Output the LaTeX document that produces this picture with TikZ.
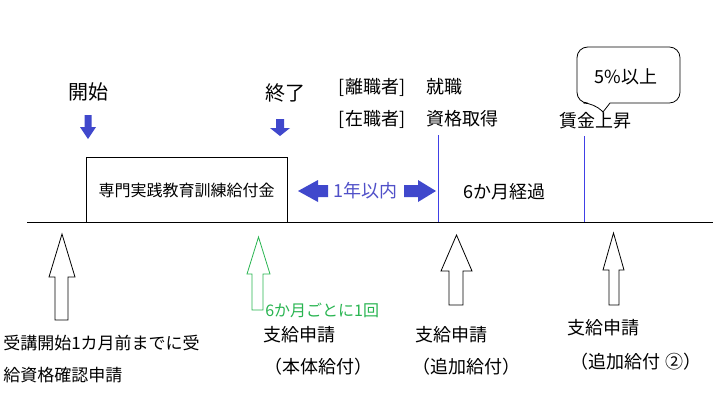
\documentclass[tikz,border=0pt]{standalone}
\usepackage{fontspec}
\setmainfont{Noto Sans CJK JP}
\usepackage{xcolor}
\usepackage{tikz}
\usetikzlibrary{positioning}
\definecolor{arrblue}{RGB}{64,72,204}
\definecolor{lineblue}{RGB}{64,64,230}
\definecolor{txtblue}{RGB}{80,80,200}
\definecolor{apgreen}{RGB}{40,180,80}
\tikzset{lbl/.style={inner sep=0pt, font=\fontsize{13.5}{16}\selectfont},
	big lbl/.style={inner sep=0pt, font=\fontsize{15}{18}\selectfont},
	hollow arr/.style={draw, line width=0.6pt},
	blue arr/.style={fill=arrblue, draw=none}}

\begin{document}
\begin{tikzpicture}[x=0.75pt, y=-0.75pt]
	\useasboundingbox (0,0) rectangle (713,419);
	
	\draw[line width=0.75pt] (86,157) rectangle (287,222);
	\node[inner sep=0pt, font=\fontsize{12}{14}\selectfont] (kyufu) at (186.5,190) {専門実践教育訓練給付金};
	
	\coordinate (t0) at (27,222);
	\coordinate (t1) at (713,222);
	\draw[line width=0.75pt] (t0) -- (t1);
	
	\node[big lbl] (start) at (88,92) {開始};
	\node[big lbl] (end) at (285,93) {終了};
	
	\fill[blue arr] (84.5,115) -- (91.5,115) -- (91.5,127) -- (96,127) -- (88,139) -- (80,127) -- (84.5,127) -- cycle;
	\fill[blue arr] (276,119) -- (284,119) -- (284,128) -- (290,128) -- (280,136) -- (270,128) -- (276,128) -- cycle;
	
	\node[lbl] (rishoku) at (372,87) {[離職者]};
	\node[lbl, anchor=west] (shushoku) at (426,87) {就職};
	\node[lbl] (zaishoku) at (372,119) {[在職者]};
	\node[lbl, anchor=west] (shikaku) at (426,119) {資格取得};
	\node[lbl] (chingin) at (595,121) {賃金上昇};
	
	\draw[lineblue, line width=0.6pt] (438,135) -- (438,222);
	\draw[lineblue, line width=0.6pt] (584,136) -- (584,222);
	
	% callout
	\draw[line width=0.6pt] (603,112) -- (610,103) [rounded corners=8] -- (680,103) -- (680,47) -- (577,47) -- (577,103) -- (594,103) [sharp corners] -- cycle;
	\node[lbl] (pct) at (626,77) {5\%以上};
	
	\fill[blue arr] (298,191) -- (318,180) -- (318,185) -- (328,185) -- (328,197) -- (318,197) -- (318,202) -- cycle;
	\fill[blue arr] (436,191) -- (418,180) -- (418,185) -- (404,185) -- (404,197) -- (418,197) -- (418,202) -- cycle;
	\node[lbl, text=txtblue] (ichinen) at (365,191) {1年以内};
	\node[lbl] (rokka) at (504,192) {6か月経過};
	
	% up arrows
	\draw[hollow arr] (62,234) -- (75,277) -- (68,277) -- (68,320) -- (55,320) -- (55,277) -- (49,277) -- cycle;
	\draw[hollow arr, apgreen] (258.5,237) -- (270,274) -- (263,274) -- (263,310) -- (252,310) -- (252,274) -- (247,274) -- cycle;
	\draw[hollow arr] (456.5,235) -- (472,271) -- (463,271) -- (463,305) -- (449,305) -- (449,271) -- (441,271) -- cycle;
	\draw[hollow arr] (613.5,233) -- (624,270) -- (619,270) -- (619,305) -- (609,305) -- (609,270) -- (603,270) -- cycle;
	
	\node[inner sep=0pt, anchor=west, font=\fontsize{12.75}{15}\selectfont] (uke1) at (3,343) {受講開始1カ月前までに受};
	\node[inner sep=0pt, anchor=west, font=\fontsize{12.75}{15}\selectfont] (uke2) at (3,375) {給資格確認申請};
	
	\node[inner sep=0pt, anchor=west, text=apgreen, font=\fontsize{12}{14}\selectfont] (maikai) at (265,310) {6か月ごとに1回};
	\node[lbl, anchor=west] (shikyu1) at (263,335) {支給申請};
	\node[lbl] (hontai) at (318,367) {（本体給付）};
	\node[lbl, anchor=west] (shikyu2) at (415,335) {支給申請};
	\node[lbl] (tsuika1) at (466,367) {（追加給付）};
	\node[lbl, anchor=west] (shikyu3) at (567,328) {支給申請};
	\node[lbl] (tsuika2) at (636,362) {（追加給付 ②）};
\end{tikzpicture}
\end{document}
